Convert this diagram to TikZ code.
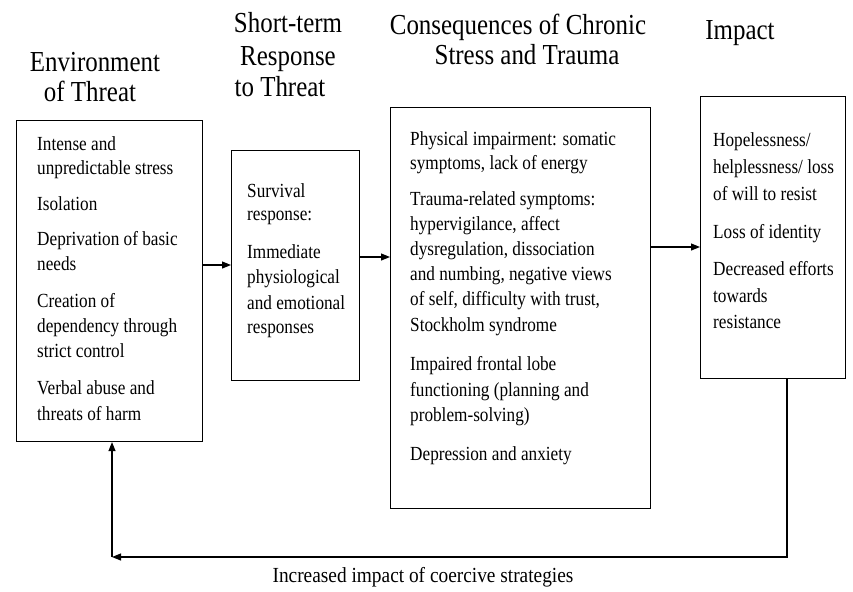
\documentclass[tikz,border=0pt]{standalone}
\usepackage{fontspec}
\setmainfont{Liberation Serif}[FakeStretch=0.86]
\newfontfamily\lblfont{Liberation Serif}[FakeStretch=0.9]
\usetikzlibrary{arrows.meta}
\begin{document}
\begin{tikzpicture}[x=1pt,y=-1pt,
  box/.style={draw,line width=1.1pt,inner sep=0pt,anchor=north west},
  txt/.style={inner sep=0pt,anchor=base west,font=\fontsize{20}{24}\selectfont},
  ttl/.style={inner sep=0pt,anchor=base,font=\fontsize{29}{32}\selectfont},
  lbl/.style={inner sep=0pt,anchor=base,font=\lblfont\fontsize{21.5}{24}\selectfont},
  conn/.style={line width=1.1pt},
  arr/.style={line width=1.1pt,-{Triangle[length=9pt,width=7pt]}}]
\useasboundingbox (0,0) rectangle (853,591);
\fill[white] (0,0) rectangle (853,591);

% titles
\node[ttl] (t1a) at (95,72) {Environment};
\node[ttl] (t1b) at (90,102) {of Threat};
\node[ttl] (t2a) at (288,33) {Short-term};
\node[ttl] (t2b) at (288,66) {Response};
\node[ttl] (t2c) at (280,97) {to Threat};
\node[ttl] (t3a) at (518,35) {Consequences of Chronic};
\node[ttl] (t3b) at (527,65) {Stress and Trauma};
\node[ttl] (t4a) at (740,40) {Impact};

% boxes
\node[box,minimum width=186pt,minimum height=321pt] (b1) at (16,120) {};
\node[box,minimum width=128pt,minimum height=230pt] (b2) at (231,150) {};
\node[box,minimum width=260pt,minimum height=401pt] (b3) at (390,107) {};
\node[box,minimum width=145pt,minimum height=282pt] (b4) at (700,96) {};

% box texts
\foreach \yy/\tt [count=\k] in {150/{Intense and},174/{unpredictable stress},210/{Isolation},
  245/{Deprivation of basic},270/{needs},307/{Creation of},332/{dependency through},
  357/{strict control},394/{Verbal abuse and},420/{threats of harm}}
  \node[txt] (x1-\k) at (37,\yy) {\tt};
\foreach \yy/\tt [count=\k] in {197/{Survival},220/{response:},258/{Immediate},
  283/{physiological},309/{and emotional},333/{responses}}
  \node[txt] (x2-\k) at (247,\yy) {\tt};
\foreach \yy/\tt [count=\k] in {145/{Physical impairment: somatic},169/{symptoms, lack of energy},
  205/{Trauma-related symptoms:},230/{hypervigilance, affect},255/{dysregulation, dissociation},
  280/{and numbing, negative views},305/{of self, difficulty with trust,},331/{Stockholm syndrome},
  370/{Impaired frontal lobe},396/{functioning (planning and},421/{problem-solving)},
  460/{Depression and anxiety}}
  \node[txt] (x3-\k) at (410,\yy) {\tt};
\foreach \yy/\tt [count=\k] in {146/{Hopelessness/},173/{helplessness/ loss},200/{of will to resist},
  238/{Loss of identity},275/{Decreased efforts},302/{towards},328/{resistance}}
  \node[txt] (x4-\k) at (713,\yy) {\tt};

% connectors
\draw[arr] (b1.east |- 0,265) -- (b2.west |- 0,265);
\draw[arr] (b2.east |- 0,257) -- (b3.west |- 0,257);
\draw[arr] (b3.east |- 0,247) -- (b4.west |- 0,247);

\coordinate (c1) at (787,557);
\coordinate (c2) at (112,557);
\draw[arr] (b4.south -| c1) -- (c1) -- (c2);
\draw[arr] (c2) -- (b1.south -| c2);

\node[lbl] (lab) at (423,582) {Increased impact of coercive strategies};
\end{tikzpicture}
\end{document}
